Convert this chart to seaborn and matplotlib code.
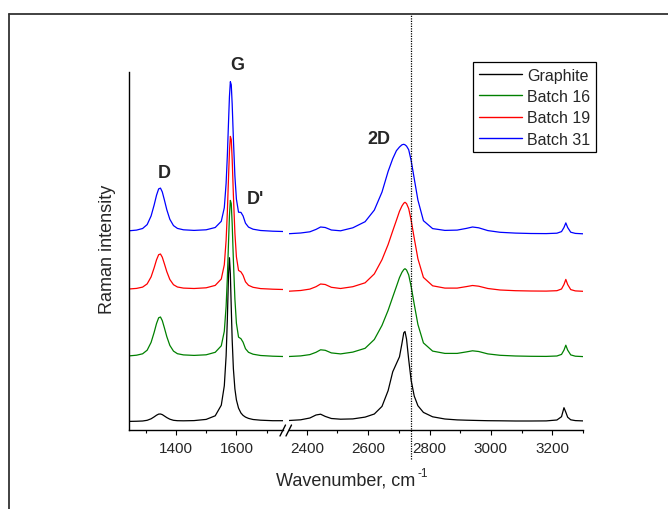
import matplotlib
matplotlib.use("Agg")
import matplotlib.pyplot as plt
from matplotlib.lines import Line2D
import pandas as pd
import seaborn as sns

# ---------------- data ----------------
series_names = ["Graphite", "Batch 16", "Batch 19", "Batch 31"]
series_colors = ["#000000", "#008000", "#FF0000", "#0000FF"]

wn_low = [1245, 1270, 1290, 1305, 1318, 1328, 1336, 1343, 1349, 1355, 1362, 1370,
          1380, 1392, 1405, 1425, 1460, 1500, 1530, 1550, 1560, 1566, 1570, 1574,
          1577, 1580, 1583, 1586, 1590, 1595, 1600, 1607, 1615, 1622, 1630, 1640,
          1655, 1680, 1720, 1754]

graphite_low = [8.6, 8.75, 9.0, 9.7, 11.2, 13.1, 14.8, 15.9, 16.0, 15.4, 14.0, 12.4,
                10.8, 9.7, 9.3, 9.2, 9.4, 10.6, 14.2, 24.8, 44.2, 74.1, 110.3, 156.0,
                172.3, 156.0, 122.2, 90.3, 61.3, 41.1, 30.1, 21.9, 17.0, 14.6, 12.9, 11.6,
                10.5, 9.8, 9.3, 9.3]
batch16_low = [74.1, 74.8, 76.2, 79.8, 87.6, 97.5, 106.5, 112.2, 113.0, 109.4, 102.1, 93.3,
               84.6, 78.9, 76.3, 75.1, 74.6, 75.2, 77.7, 84.2, 98.7, 123.7, 152.0, 188.1,
               214.2, 229.6, 226.4, 206.4, 170.0, 131.0, 106.8, 92.9, 91.3, 87.8, 81.3, 77.7,
               75.8, 74.5, 73.8, 73.5]
batch19_low = [141.0, 141.6, 142.9, 146.1, 153.1, 162.1, 170.2, 175.3, 176.0, 172.8, 166.2, 158.3,
               150.5, 145.3, 143.0, 141.9, 141.5, 142.2, 144.6, 151.0, 165.2, 189.8, 217.5, 252.9,
               278.4, 293.6, 290.5, 270.9, 235.2, 196.9, 173.2, 159.6, 158.1, 154.7, 148.2, 144.7,
               142.7, 141.4, 140.8, 140.5]
batch31_low = [199.2, 199.9, 201.5, 205.4, 214.0, 224.9, 234.8, 241.1, 241.9, 238.1, 230.0, 220.2,
               210.7, 204.4, 201.6, 200.2, 199.6, 200.2, 202.5, 208.7, 222.3, 246.8, 273.9, 308.4,
               333.5, 348.3, 345.2, 326.1, 291.3, 254.0, 230.9, 217.8, 217.6, 214.1, 206.8, 202.9,
               200.8, 199.5, 198.8, 198.5]

wn_high = [2342, 2380, 2410, 2430, 2445, 2460, 2480, 2510, 2550, 2590, 2620, 2645,
           2665, 2680, 2692, 2702, 2710, 2716, 2720, 2725, 2732, 2740, 2750, 2762,
           2780, 2810, 2850, 2890, 2920, 2940, 2960, 2990, 3030, 3080, 3130, 3180,
           3215, 3230, 3238, 3244, 3250, 3260, 3275, 3300]

graphite_high = [9.5, 10.2, 12.0, 15.0, 15.8, 13.6, 11.5, 10.8, 11.1, 12.9, 16.0, 23.6,
                 39.4, 58.2, 66.4, 73.2, 86.5, 97.2, 98.5, 90.9, 70.5, 49.7, 34.0, 24.3,
                 17.6, 13.2, 11.0, 10.1, 9.8, 9.65, 9.5, 9.3, 9.2, 9.0, 9.0, 9.1,
                 10.0, 13.3, 22.3, 17.8, 12.8, 10.2, 9.4, 9.1]
batch16_high = [73.5, 74.1, 75.4, 77.7, 80.2, 79.7, 77.1, 76.1, 77.9, 81.7, 90.5, 104.6,
                119.7, 133.0, 143.5, 152.4, 157.7, 160.4, 161.3, 160.0, 155.1, 143.6, 125.9, 105.6,
                87.1, 78.9, 76.6, 76.6, 78.1, 79.2, 78.5, 76.1, 74.7, 74.0, 73.7, 73.6,
                74.0, 75.6, 79.9, 84.8, 79.9, 75.1, 73.8, 73.4]
batch19_high = [138.8, 139.5, 140.9, 143.3, 146.0, 145.5, 142.7, 141.5, 143.3, 147.2, 156.1, 170.3,
                185.5, 199.1, 209.7, 218.7, 224.0, 226.8, 227.7, 226.4, 221.4, 209.8, 191.9, 171.3,
                152.6, 144.2, 141.9, 141.9, 143.4, 144.5, 143.8, 141.5, 140.0, 139.3, 139.0, 138.9,
                139.3, 141.0, 145.5, 150.6, 145.5, 140.4, 139.1, 138.7]
batch31_high = [196.3, 197.0, 198.2, 200.6, 203.0, 202.5, 200.0, 199.2, 202.2, 208.3, 219.9, 237.9,
                258.6, 271.3, 279.3, 283.0, 285.2, 285.7, 285.2, 283.9, 280.3, 269.5, 251.5, 230.0,
                209.3, 201.4, 199.6, 199.9, 201.6, 203.0, 202.2, 199.4, 197.7, 196.9, 196.5, 196.4,
                196.8, 198.4, 202.5, 207.1, 202.5, 197.8, 196.6, 196.2]

low_ticks = [1400, 1600]
low_minor = [1300, 1500, 1700]
high_ticks = [2400, 2600, 2800, 3000, 3200]
high_minor = [2500, 2700, 2900, 3100, 3300]
peak_labels = ["G", "D", "D'", "2D"]
marker_wavenumber = 2740

# ---------------- tables ----------------
def long_table(wn, cols):
    frames = []
    for name, vals in zip(series_names, cols):
        frames.append(pd.DataFrame({"wn": wn, "I": vals, "sample": name}))
    return pd.concat(frames, ignore_index=True)

df_low = long_table(wn_low, [graphite_low, batch16_low, batch19_low, batch31_low])
df_high = long_table(wn_high, [graphite_high, batch16_high, batch19_high, batch31_high])
palette = dict(zip(series_names, series_colors))

# ---------------- figure ----------------
sns.set_theme(style="ticks")
plt.rcParams["font.family"] = ["Liberation Sans", "DejaVu Sans"]

W, H = 668, 510
fig = plt.figure(figsize=(W / 100, H / 100), dpi=100)

def fx(px):
    return px / W

def fy(py):
    return 1 - py / H

ax_bottom, ax_top = 431, 73
ax1 = fig.add_axes([fx(129), fy(ax_bottom), fx(283) - fx(129), (ax_bottom - ax_top) / H])
ax2 = fig.add_axes([fx(289), fy(ax_bottom), fx(583) - fx(289), (ax_bottom - ax_top) / H])

for ax, df in ((ax1, df_low), (ax2, df_high)):
    sns.lineplot(data=df, x="wn", y="I", hue="sample", palette=palette,
                 estimator=None, sort=True, linewidth=0.9, legend=False, ax=ax)
    ax.set_ylim(0, 358)
    ax.set_xlabel("")
    ax.set_ylabel("")
    ax.set_yticks([])
    for s in ("top", "right"):
        ax.spines[s].set_visible(False)
    ax.spines["bottom"].set_linewidth(1.0)
    ax.spines["bottom"].set_color("black")
    ax.tick_params(axis="x", which="major", length=3.5, width=0.8, color="black",
                   labelsize=11, pad=4.5, direction="out")
    ax.tick_params(axis="x", which="minor", length=2.2, width=0.8, color="black",
                   direction="out")
    ax.patch.set_alpha(0)

ax1.set_xlim(1245, 1754)
ax1.set_xticks(low_ticks)
ax1.set_xticks(low_minor, minor=True)
ax1.spines["left"].set_linewidth(1.0)
ax1.spines["left"].set_color("black")

ax2.set_xlim(2342, 3300)
ax2.set_xticks(high_ticks)
ax2.set_xticks(high_minor, minor=True)
ax2.spines["left"].set_visible(False)

# vertical dotted marker line
ax2.axvline(marker_wavenumber, ymin=(ax_bottom - 460) / (ax_bottom - ax_top),
            ymax=(ax_bottom - 15) / (ax_bottom - ax_top), clip_on=False,
            color="black", linewidth=0.9, linestyle=(0, (1, 1)))

# axis break marks
for x0 in (280, 286):
    fig.add_artist(Line2D([fx(x0), fx(x0 + 5.5)], [fy(437), fy(426)],
                          color="black", linewidth=1.0))

# axis labels
xl = fig.text(fx(276), fy(486), "Wavenumber, cm", ha="left", va="baseline", fontsize=13)
fig.canvas.draw()
bb = xl.get_window_extent()
fig.text(fx(bb.x1 + 2), fy(477.5), "-1", ha="left", va="baseline", fontsize=8.5)

fig.text(fx(108), fy(249), "Raman intensity", ha="center", va="center",
         rotation=90, fontsize=13)

label_pos = [(237.5, 65), (164.5, 173.5), (255, 200), (379, 139.7)]
for txt, (px, py) in zip(peak_labels, label_pos):
    fig.text(fx(px), fy(py), txt, ha="center", va="center", fontsize=13,
             fontweight="bold")

# legend
handles = [Line2D([0], [0], color=c, linewidth=1.0) for c in series_colors]
leg = fig.legend(handles, series_names, loc="upper left",
                 bbox_to_anchor=(fx(473), fy(63)), fontsize=11.5,
                 frameon=True, fancybox=False, framealpha=1, edgecolor="black",
                 borderpad=0.35, labelspacing=0.4, handlelength=2.7,
                 handletextpad=0.35, borderaxespad=0)
leg.get_frame().set_linewidth(0.9)

# outer frame (left and top edges visible)
fig.add_artist(Line2D([fx(9), fx(9)], [fy(15), 0], color="#333333", linewidth=1.3))
fig.add_artist(Line2D([fx(9), 1], [fy(15), fy(15)], color="#333333", linewidth=1.3))

fig.savefig("out.png", dpi=100)
